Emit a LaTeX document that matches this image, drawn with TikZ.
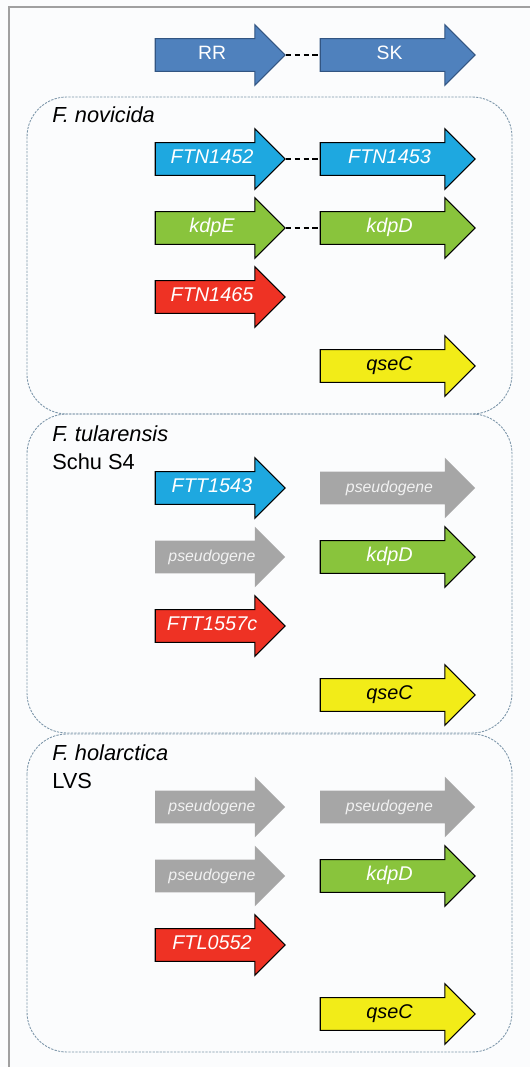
\documentclass[tikz,border=0pt]{standalone}
\usepackage{fontspec}
\setmainfont{Liberation Sans}
\usetikzlibrary{shapes.arrows}
\definecolor{rrblue}{RGB}{79,129,189}
\definecolor{rredge}{RGB}{50,85,130}
\definecolor{cyangene}{RGB}{30,168,224}
\definecolor{greengene}{RGB}{137,196,60}
\definecolor{redgene}{RGB}{238,50,36}
\definecolor{yellowgene}{RGB}{242,236,24}
\definecolor{pseudogray}{RGB}{166,166,166}
\definecolor{boxedge}{RGB}{125,150,170}
\definecolor{framegray}{RGB}{160,160,160}
\definecolor{paper}{RGB}{251,252,253}
\newcommand*{\colL}{212}
\newcommand*{\colR}{389.5}
\newcommand*{\boxL}{27}
\newcommand*{\boxR}{512}
\newcommand*{\txtx}{52}
\tikzset{
  gene/.style={single arrow, single arrow tip angle=90, single arrow head extend=0.28cm,
    minimum width=1.2cm, inner xsep=0pt, inner ysep=3.8pt, text height=8pt, text depth=2.5pt,
    draw=black, line width=0.6pt, text=white,
    font=\fontsize{11.3}{13}\selectfont\itshape},
  geneshort/.style={gene, minimum height=2.6cm},
  genelong/.style={gene, minimum height=3.1cm},
  pseudo/.style={fill=pseudogray, draw=none, text={rgb,255:red,242;green,242;blue,242},
    font=\fontsize{9}{11}\selectfont\itshape},
  legendgene/.style={fill=rrblue, draw=rredge, font=\fontsize{11}{13}\selectfont},
  species/.style={anchor=west, inner sep=0pt, font=\fontsize{12.4}{14}\selectfont},
  strainbox/.style={draw=boxedge, line width=0.5pt, dash pattern=on 1.3pt off 0.7pt, rounded corners=0.8cm},
  pairlink/.style={densely dashed, line width=0.6pt}
}

\begin{document}
\begin{tikzpicture}[x=0.02cm, y=-0.02cm]
    \fill [paper] (0,0) rectangle (530,1067);
    \useasboundingbox (0,0) rectangle (530,1067);
    \draw [framegray, line width=1.2pt] (9,1067) -- (9,7) -- (530,7);

    % legend
    \node [geneshort, legendgene] (rr) at (\colL,55) {RR};
    \node [genelong, legendgene] (sk) at (\colR,55) {SK};
    \draw [pairlink] (rr.tip) -- (sk.tail);

    % F. novicida
    \draw [strainbox] (\boxL,97) rectangle (\boxR,414);
    \node [species] (fn) at (\txtx,115) {\itshape F. novicida};
    \node [geneshort, fill=cyangene] (ftn1452) at (\colL,159) {FTN1452};
    \node [genelong, fill=cyangene] (ftn1453) at (\colR,159) {FTN1453};
    \node [geneshort, fill=greengene] (kdpE) at (\colL,228) {kdpE};
    \node [genelong, fill=greengene] (fnkdpD) at (\colR,228) {kdpD};
    \node [geneshort, fill=redgene] (ftn1465) at (\colL,297) {FTN1465};
    \node [genelong, fill=yellowgene, text=black] (fnqseC) at (\colR,366) {qseC};
    \draw [pairlink] (ftn1452.tip) -- (ftn1453.tail);
    \draw [pairlink] (kdpE.tip) -- (fnkdpD.tail);

    % F. tularensis Schu S4
    \draw [strainbox] (\boxL,414) rectangle (\boxR,733);
    \node [species] (ft) at (\txtx,434) {\itshape F. tularensis};
    \node [species] (ftstrain) at (\txtx,462) {Schu S4};
    \node [geneshort, fill=cyangene] (ftt1543) at (\colL,488) {FTT1543};
    \node [genelong, pseudo] (ftpsA) at (\colR,488) {pseudogene};
    \node [geneshort, pseudo] (ftpsB) at (\colL,557) {pseudogene};
    \node [genelong, fill=greengene] (ftkdpD) at (\colR,557) {kdpD};
    \node [geneshort, fill=redgene] (ftt1557c) at (\colL,626) {FTT1557c};
    \node [genelong, fill=yellowgene, text=black] (ftqseC) at (\colR,695) {qseC};

    % F. holarctica LVS
    \draw [strainbox] (\boxL,734) rectangle (\boxR,1052);
    \node [species] (fh) at (\txtx,753) {\itshape F. holarctica};
    \node [species] (fhstrain) at (\txtx,781) {LVS};
    \node [geneshort, pseudo] (fhpsA) at (\colL,807) {pseudogene};
    \node [genelong, pseudo] (fhpsB) at (\colR,807) {pseudogene};
    \node [geneshort, pseudo] (fhpsC) at (\colL,876) {pseudogene};
    \node [genelong, fill=greengene] (fhkdpD) at (\colR,876) {kdpD};
    \node [geneshort, fill=redgene] (ftl0552) at (\colL,945) {FTL0552};
    \node [genelong, fill=yellowgene, text=black] (fhqseC) at (\colR,1014) {qseC};
\end{tikzpicture}
\end{document}
